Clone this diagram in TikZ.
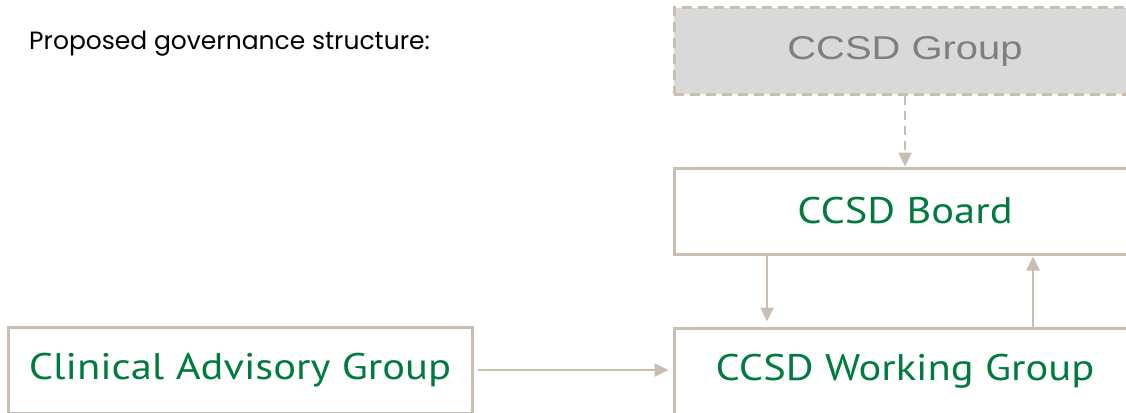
\documentclass[tikz,border=0pt]{standalone}
\usepackage{fontspec}
\setmainfont{Poppins}
\newfontfamily\boxfont[FakeStretch=1.15]{PT Sans}
\newfontfamily\greyfont[FakeStretch=1.21]{Liberation Sans}
\usetikzlibrary{arrows.meta}
\definecolor{tan}{HTML}{C8BFB2}
\definecolor{boxgreen}{HTML}{007A3D}
\definecolor{fillgrey}{HTML}{D9D9D9}
\definecolor{textgrey}{HTML}{7F7F7F}
\tikzset{
  govbox/.style={draw=tan, line width=3pt, rectangle, minimum width=462pt,
    minimum height=86pt, inner sep=0pt, text=boxgreen,
    font=\boxfont\fontsize{37}{40}\selectfont},
  link/.style={draw=tan, line width=2.5pt, -{Triangle[length=14pt,width=13pt]}}
}
\begin{document}
\begin{tikzpicture}[x=1pt, y=-1pt]
  \useasboundingbox (0,0) rectangle (1126,412);
  \clip (0,0) rectangle (1126,412);

  \node[anchor=base west, inner sep=0pt, font=\fontsize{25}{30}\selectfont] (title) at (29,49) {Proposed governance structure:};

  \node[govbox, dashed, dash pattern=on 10pt off 6pt, fill=fillgrey, text=textgrey,
    font=\greyfont\fontsize{33}{36}\selectfont] (group) at (905,51) {CCSD Group};
  \node[govbox] (board) at (905,211) {CCSD Board};
  \node[govbox] (working) at (905,371) {CCSD Working Group};
  \node[govbox, minimum width=464pt] (clinical) at (240,370) {Clinical Advisory Group};

  \draw[link, dashed, dash pattern=on 9pt off 6pt] (group.south) -- (board.north);
  \draw[link, shorten >=5pt] ([xshift=-138pt]board.south) -- ([xshift=-138pt]working.north);
  \draw[link, shorten >=1pt] ([xshift=128pt]working.north) -- ([xshift=128pt]board.south);
  \draw[link, shorten <=4pt, shorten >=4pt] (clinical.east) -- (clinical.east -| working.west);
\end{tikzpicture}
\end{document}
